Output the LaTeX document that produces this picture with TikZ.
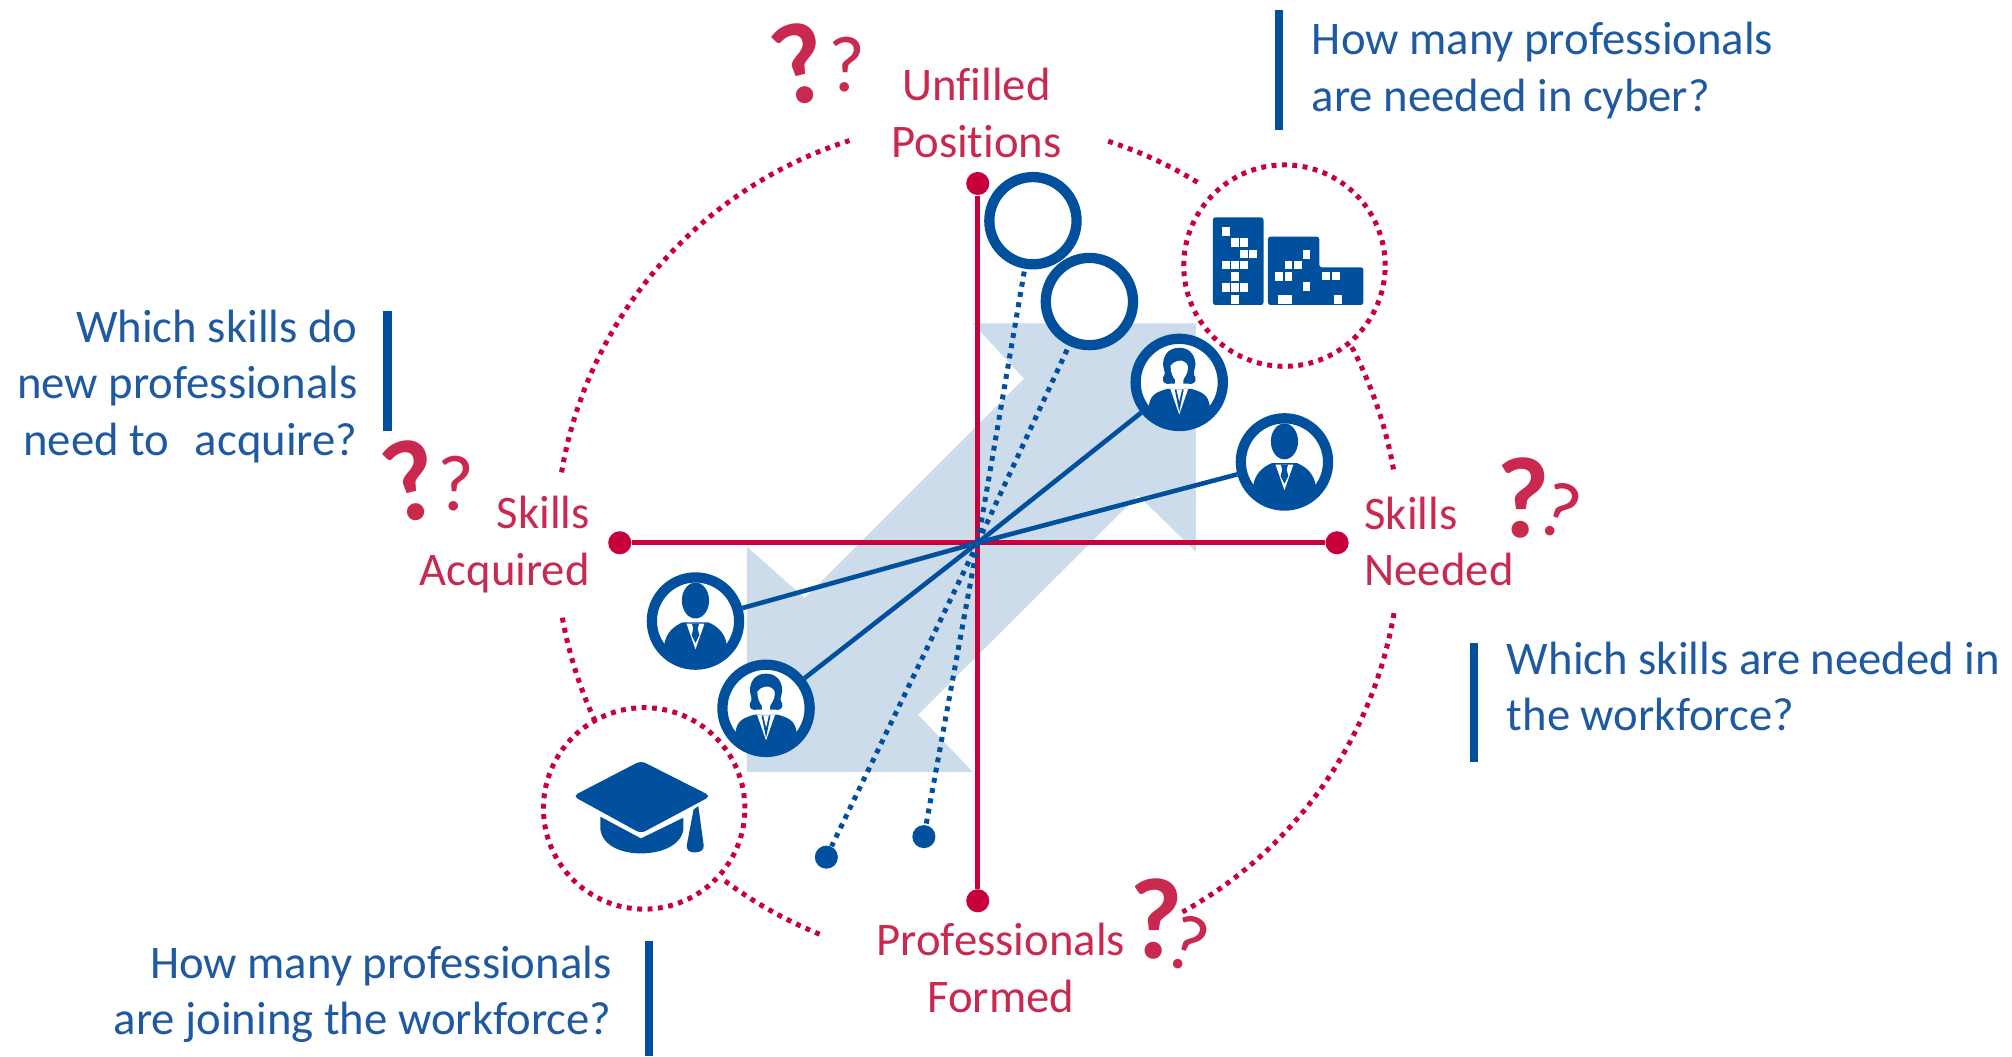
\documentclass[tikz,border=0pt]{standalone}
\usepackage{fontspec}
\setmainfont{Carlito}[Ligatures=NoCommon]
\definecolor{cblue}{HTML}{00509E}
\definecolor{tblue}{HTML}{1F5AA0}
\definecolor{cred}{HTML}{C8003C}
\definecolor{tred}{HTML}{C9294F}
\definecolor{lblue}{HTML}{CDDCEB}
\tikzset{
  axisline/.style={cred,line width=1.95pt},
  reddots/.style={cred,line width=1.95pt,dash pattern=on 1.9pt off 2.15pt},
  bluedots/.style={cblue,line width=1.95pt,dash pattern=on 1.9pt off 2.15pt},
  blueline/.style={cblue,line width=1.8pt},
  reddot/.style={circle,fill=cred,inner sep=0pt,minimum size=9pt},
  bluedot/.style={circle,fill=cblue,inner sep=0pt,minimum size=9pt},
  ring/.style={circle,draw=cblue,fill=white,line width=4pt,inner sep=0pt,minimum size=34pt},
  badge/.style={circle,draw=cred,fill=none,line width=1.95pt,dash pattern=on 1.9pt off 2.15pt,inner sep=0pt,minimum size=78.5pt},
  bar/.style={cblue,line width=3.2pt},
  qtext/.style={text=tblue,inner sep=0pt,font=\fontsize{18.2}{22}\selectfont},
  rtext/.style={text=tred,inner sep=0pt,font=\fontsize{18.2}{22}\selectfont},
  bigq/.style={text=tred,inner sep=0pt,font=\bfseries\fontsize{45}{45}\selectfont},
  smallq/.style={text=tred,inner sep=0pt,font=\fontsize{31}{31}\selectfont},
  manicon/.pic={
    \begin{scope}
      \clip (0,0) circle (31);
      \fill[cblue] (-32,-34) -- (-24.5,-19) .. controls (-23,-9) and (-17,-4) .. (-10,-1)
        -- (10,-1) .. controls (17,-4) and (23,-9) .. (24.5,-19) -- (32,-34) -- cycle;
      \fill[white] (-7,-2) -- (7,-2) -- (0,-22) -- cycle;
      \fill[cblue] (-2.8,-2) -- (2.8,-2) -- (1.7,-6) -- (3,-11) -- (0,-17) -- (-3,-11) -- (-1.7,-6) -- cycle;
    \end{scope}
    \fill[cblue] (0,16) ellipse (10.6 and 14);
  },
  womanicon/.pic={
    \begin{scope}
      \clip (0,0) circle (31);
      \fill[cblue] (-32,-34) -- (-24,-20) .. controls (-23,-12) and (-21,-8) .. (-9,-5)
        -- (9,-5) .. controls (21,-8) and (23,-12) .. (24,-20) -- (32,-34) -- cycle;
      \fill[white] (-7,-5) -- (7,-5) -- (0,-25) -- cycle;
      \fill[cblue] (-3.5,-5.5) -- (3.5,-5.5) -- (0,-23) -- cycle;
      \fill[white] (-2.2,-5.5) -- (2.2,-5.5) -- (0,-15) -- cycle;
    \end{scope}
    \fill[cblue] (0,27) .. controls (-9,27) and (-13,20) .. (-12.5,13)
      .. controls (-12,9) and (-10,7) .. (-12.5,4) .. controls (-14,0) and (-10,-2) .. (-7,-1)
      -- (7,-1) .. controls (10,-2) and (14,0) .. (12.5,4)
      .. controls (10,7) and (12,9) .. (12.5,13) .. controls (13,20) and (9,27) .. (0,27) -- cycle;
    \fill[white] (-6.8,13) .. controls (-4,17) and (2,18) .. (4,16) .. controls (5.5,15.5) and (6.8,14) .. (6.8,11)
      .. controls (6.8,7) and (4,4) .. (3.2,2) -- (3.2,-5) -- (-3.2,-5) -- (-3.2,2) .. controls (-5,4) and (-6.8,8) .. (-6.8,13) -- cycle;
  }
}
\begin{document}
\begin{tikzpicture}[x=0.5pt,y=-0.5pt]
\useasboundingbox (0,0) rectangle (1568,823);
% block arrow
\fill[lblue] (932,252) -- (758,252) -- (798,295) -- (627,466) -- (582,426) -- (582,601.5)
  -- (758,601.5) -- (715.5,557) -- (887,386) -- (932,430) -- cycle;
% anchors
\coordinate (c) at (762,423);
\node[reddot] (axT) at (762,143) {};
\node[reddot] (axB) at (762,702) {};
\node[reddot] (axL) at (483,423) {};
\node[reddot] (axR) at (1042,423) {};
\draw[axisline] (axT) -- (axB);
\draw[axisline] (axL) -- (axR);
% outer dotted circle
\draw[reddots] (c) ++(-170.4:329) arc[start angle=-170.4,end angle=-107.7,radius=329];
\draw[reddots] (c) ++(-72:329) arc[start angle=-72,end angle=-58,radius=329];
\draw[reddots] (c) ++(-27.6:329) arc[start angle=-27.6,end angle=-9.6,radius=329];
\draw[reddots] (c) ++(9.6:329) arc[start angle=9.6,end angle=61,radius=329];
\draw[reddots] (c) ++(112:329) arc[start angle=112,end angle=127,radius=329];
\draw[reddots] (c) ++(155:329) arc[start angle=155,end angle=170.4,radius=329];
% badges
\node[badge] (bdA) at (1001,207) {};
\node[badge] (bdB) at (502,630) {};
% buildings
\begin{scope}[shift={(701.5,101.3)},x=0.1342pt,y=-0.1299pt]
  \fill[cblue,rounded corners=1pt] (908,525) -- (908,262) -- (1055,262) -- (1055,525) -- cycle;
  \fill[cblue,rounded corners=1pt] (1068,525) -- (1068,320) -- (1217,320) -- (1217,412) -- (1345,412) -- (1345,525) -- cycle;
  \foreach \wx/\wy in {946/305,972/337,999/337,999/372,1025/372,946/405,972/405,999/405,972/440,946/473,972/473,999/473,972/508,1180/373,1128/405,1155/405,1100/440,1128/440,1180/470,1237/438,1265/438,1272/508}
    \fill[white] (\wx-11,\wy-13) rectangle (\wx+11,\wy+13);
  \fill[white] (1096,495) rectangle (1138,521);
\end{scope}
% graduation cap
\begin{scope}[shift={(401.8,405.3)},x=0.1396pt,y=-0.1299pt]
  \fill[cblue,rounded corners=2pt] (350,722) -- (545,828) -- (350,940) -- (160,828) -- cycle;
  \fill[cblue] (237,890) -- (350,955) -- (468,893) -- (468,930) .. controls (460,980) and (400,1000) .. (350,1000)
    .. controls (300,1000) and (245,980) .. (237,930) -- cycle;
  \fill[cblue] (497,868) -- (510,858) -- (525,975) .. controls (527,990) and (515,997) .. (500,997)
    .. controls (485,997) and (476,990) .. (478,975) -- cycle;
\end{scope}
% rings
\node[ring] (ra) at (805,172) {};
\node[ring] (rb) at (849,235) {};
\node[ring] (wa) at (919,298) {};
\node[ring] (ma) at (1001,360) {};
\node[ring] (mb) at (542,484) {};
\node[ring] (wb) at (597,552) {};
\begin{scope}[y=0.5pt]
  \pic at (919,-298) {womanicon};
  \pic at (1001,-360) {manicon};
  \pic at (542,-484) {manicon};
  \pic at (597,-552) {womanicon};
\end{scope}
\node[bluedot] (da) at (644,668) {};
\node[bluedot] (db) at (720,652) {};
% connectors
\draw[bluedots] (c) -- (ra);
\draw[bluedots] (c) -- (rb);
\draw[blueline] (c) -- (wa);
\draw[blueline] (c) -- (ma);
\draw[blueline] (c) -- (mb);
\draw[blueline] (c) -- (wb);
\draw[bluedots] (c) -- (da);
\draw[bluedots] (c) -- (db);
% axis labels
\node[rtext,align=center] (lT) at (761,88) {Unfilled\\Positions};
\node[rtext,align=center] (lB) at (780,754.5) {Professionals\\Formed};
\node[rtext,align=right,anchor=east] (lL) at (460,424.5) {Skills\\Acquired};
\node[rtext,align=left,anchor=west] (lR) at (1063,422) {Skills\\Needed};
% questions
\node[qtext,align=left,anchor=west] (q1) at (1022,55) {How many professionals\\are needed\hspace{0.22em}in cyber?};
\node[qtext,align=right,anchor=east] (q2) at (279,301) {Which skills do\\new professionals\\need to\hspace{0.55em}acquire?};
\node[qtext,align=left,anchor=west] (q3) at (1174,535) {Which skills are needed in\\the workforce?};
\node[qtext,align=right,anchor=east] (q4) at (477,775) {How many professionals\\are joining the workforce?};
% bars
\coordinate (b1a) at (997,8); \coordinate (b1b) at (997,101);
\coordinate (b2a) at (302,242); \coordinate (b2b) at (302,336);
\coordinate (b3a) at (1149,501); \coordinate (b3b) at (1149,594);
\coordinate (b4a) at (506,733); \coordinate (b4b) at (506,823);
\draw[bar] (b1a) -- (b1b);
\draw[bar] (b2a) -- (b2b);
\draw[bar] (b3a) -- (b3b);
\draw[bar] (b4a) -- (b4b);
% question marks
\node[bigq,rotate=14] (qa1) at (623,50) {?};
\node[smallq] (qa2) at (660,50) {?};
\node[bigq,rotate=14] (qb1) at (320,375) {?};
\node[smallq] (qb2) at (355,377) {?};
\node[bigq] (qc1) at (1187,388) {?};
\node[smallq,rotate=-20] (qc2) at (1216,398) {?};
\node[bigq] (qd1) at (901,716) {?};
\node[smallq,rotate=-20] (qd2) at (926,735) {?};
\end{tikzpicture}
\end{document}
